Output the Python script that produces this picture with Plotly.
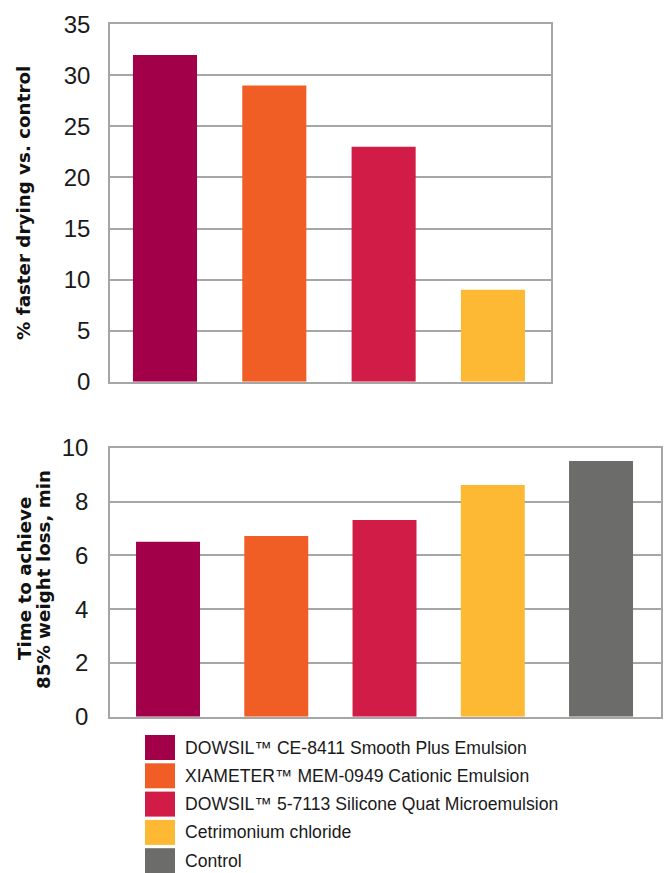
import plotly.graph_objects as go

# ---- data ----
products = [
    "DOWSIL™ CE-8411 Smooth Plus Emulsion",
    "XIAMETER™ MEM-0949 Cationic Emulsion",
    "DOWSIL™ 5-7113 Silicone Quat Microemulsion",
    "Cetrimonium chloride",
    "Control",
]
colors = ["#A3004A", "#F05E25", "#D01C47", "#FDB933", "#6C6D6B"]

faster_drying_pct = [32, 29, 23, 9]            # first four products
time_85pct_min = [6.5, 6.72, 7.31, 8.61, 9.51]  # all five products

top_yticks = [0, 5, 10, 15, 20, 25, 30, 35]
bottom_yticks = [0, 2, 4, 6, 8, 10]

W, H = 666, 873
GRID = "#A6A6A6"
TICKFONT = dict(family="Liberation Sans, Arial, sans-serif", size=24, color="#1a1a1a")
TITLEFONT = dict(family="DejaVu Sans, sans-serif", size=18.3, color="#111111")

def px_x(x):
    return x / W

def px_y(y):
    return 1 - y / H

fig = go.Figure()

fig.add_trace(go.Bar(
    x=list(range(len(faster_drying_pct))), y=faster_drying_pct,
    marker=dict(color=colors[:len(faster_drying_pct)], line=dict(width=0)),
    width=0.586, xaxis="x", yaxis="y", showlegend=False, hoverinfo="skip",
))
fig.add_trace(go.Bar(
    x=list(range(len(time_85pct_min))), y=time_85pct_min,
    marker=dict(color=colors, line=dict(width=0)),
    width=0.591, xaxis="x2", yaxis="y2", showlegend=False, hoverinfo="skip",
))

axis_common = dict(showline=True, linecolor=GRID, linewidth=1.5, mirror=True,
                   zeroline=False, automargin=False)

fig.update_layout(
    width=W, height=H, autosize=False,
    margin=dict(l=0, r=0, t=0, b=0, pad=0),
    paper_bgcolor="white", plot_bgcolor="white",
    showlegend=False,
    xaxis=dict(domain=[px_x(110), px_x(551)], range=[-0.503, 3.531],
               showticklabels=False, showgrid=False, ticks="", anchor="y",
               **axis_common),
    yaxis=dict(domain=[px_y(381.7), px_y(24.3)], range=[0, 35],
               tickvals=top_yticks, showgrid=True, gridcolor=GRID, gridwidth=1.5,
               tickfont=TICKFONT, ticks="", ticklabelstandoff=13, anchor="x",
               **axis_common),
    xaxis2=dict(domain=[px_x(110), px_x(661)], range=[-0.536, 4.554],
                showticklabels=False, showgrid=False, ticks="", anchor="y2",
                **axis_common),
    yaxis2=dict(domain=[px_y(716.7), px_y(447.7)], range=[0, 10],
                tickvals=bottom_yticks, showgrid=True, gridcolor=GRID, gridwidth=1.5,
                tickfont=TICKFONT, ticks="", ticklabelstandoff=15, anchor="x2",
                **axis_common),
)

annotations = [
    dict(text="<b>% faster drying vs. control</b>", x=px_x(23), y=px_y(203),
         xref="paper", yref="paper", xanchor="center", yanchor="middle",
         textangle=-90, showarrow=False, font=TITLEFONT),
    dict(text="<b>Time to achieve</b>", x=px_x(24), y=px_y(579),
         xref="paper", yref="paper", xanchor="center", yanchor="middle",
         textangle=-90, showarrow=False, font=TITLEFONT),
    dict(text="<b>85% weight loss, min</b>", x=px_x(43), y=px_y(580),
         xref="paper", yref="paper", xanchor="center", yanchor="middle",
         textangle=-90, showarrow=False, font=TITLEFONT),
]

shapes = []
row_top, row_h, row_step = 735, 25, 28.3
for i, (name, col) in enumerate(zip(products, colors)):
    y0 = row_top + i * row_step
    shapes.append(dict(type="rect", xref="paper", yref="paper",
                       x0=px_x(145), x1=px_x(175), y0=px_y(y0 + row_h), y1=px_y(y0),
                       fillcolor=col, line=dict(width=0)))
    annotations.append(dict(text=name, x=px_x(183), y=px_y(y0 + row_h / 2),
                            xref="paper", yref="paper", xanchor="left", yanchor="middle",
                            showarrow=False,
                            font=dict(family="Liberation Sans, Arial, sans-serif",
                                      size=17.6, color="#1a1a1a")))

fig.update_layout(annotations=annotations, shapes=shapes)

fig.write_html(
    "out.html",
    config={"displayModeBar": False},
    post_script="document.body.style.margin='0';document.body.style.overflow='hidden';",
)
